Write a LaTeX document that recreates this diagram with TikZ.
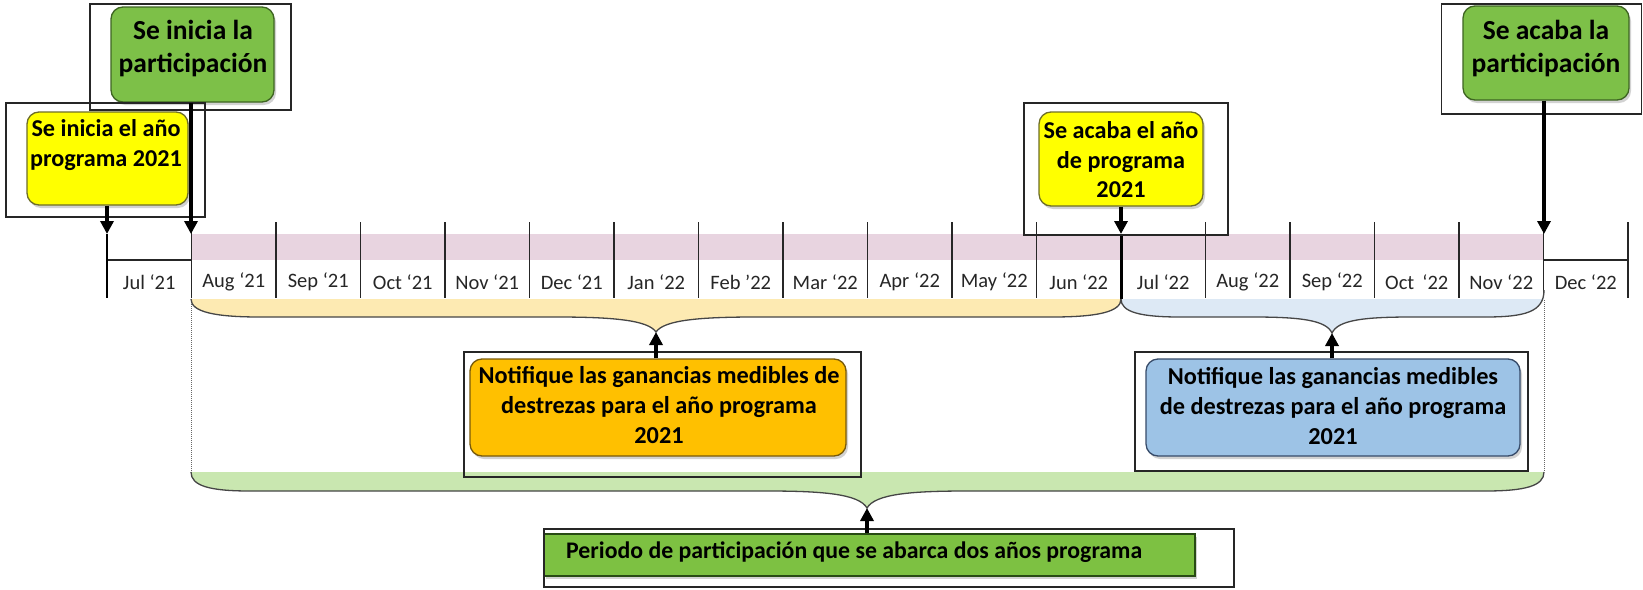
\documentclass[tikz,border=0pt]{standalone}
\usepackage{fontspec}
\setmainfont{Carlito}
\usetikzlibrary{arrows.meta,shadows}
\definecolor{gfill}{RGB}{125,192,72}
\definecolor{gdraw}{RGB}{62,100,34}
\definecolor{yfill}{RGB}{255,255,0}
\definecolor{ydraw}{RGB}{110,110,40}
\definecolor{ofill}{RGB}{255,192,0}
\definecolor{odraw}{RGB}{120,90,10}
\definecolor{bfill}{RGB}{157,195,230}
\definecolor{bdraw}{RGB}{55,75,105}
\definecolor{pfill}{RGB}{125,193,66}
\definecolor{pdraw}{RGB}{40,75,20}
\definecolor{band}{RGB}{232,212,224}
\definecolor{brY}{RGB}{253,234,178}
\definecolor{brB}{RGB}{221,233,245}
\definecolor{brG}{RGB}{201,231,176}
\definecolor{brline}{RGB}{70,70,70}
\tikzset{
  evbox/.style={rounded corners=12pt, line width=1.3pt, inner sep=0pt,
    drop shadow={opacity=0.35, shadow xshift=2pt, shadow yshift=-3pt}},
  gbox/.style={evbox, draw=gdraw, fill=gfill},
  ybox/.style={evbox, draw=ydraw, fill=yfill},
  obox/.style={evbox, draw=odraw, fill=ofill},
  bbox/.style={evbox, draw=bdraw, fill=bfill},
  gtext/.style={inner sep=0pt, align=center, font=\bfseries\fontsize{27.5}{33}\selectfont},
  ytext/.style={inner sep=0pt, align=center, font=\bfseries\fontsize{24.2}{29.5}\selectfont},
  rtext/.style={inner sep=0pt, align=center, font=\bfseries\fontsize{24.3}{30}\selectfont},
  framebox/.style={draw=black!85, line width=1.6pt, inner sep=0pt},
  arr/.style={line width=3.6pt, -{Triangle[length=13pt,width=13pt]}},
  tick/.style={line width=1.3pt, black!85},
  mlabel/.style={font=\fontsize{20.5}{24}\selectfont, text=black!85, inner sep=0pt},
  brace/.style={draw=brline, line width=1.3pt},
}
\begin{document}
\begin{tikzpicture}[x=1pt,y=-1pt]
\useasboundingbox[fill=white] (0,0) rectangle (1643,589);

% timeline band
\fill[band] (191,234) rectangle (1544,260);
\draw[tick] (107,260) -- (191,260);
\draw[tick] (1544,260) -- (1628,260);
\foreach \i in {1,...,11,13,14,15,16,17,18}
  \draw[tick] (107+84.5*\i,222) -- (107+84.5*\i,298);
\draw[line width=2.5pt] (107,234) -- (107,298);
\draw[line width=3pt] (1121,234) -- (1121,300);
\foreach \m [count=\i from 0] in {Jul ‘21,Aug ‘21,Sep ‘21,Oct ‘21,Nov ‘21,Dec ‘21,Jan ‘22,Feb '22,Mar ‘22,Apr ‘22,May ‘22,Jun ‘22,Jul ‘22,Aug ‘22,Sep ‘22,Oct\ \,‘22,Nov ‘22,Dec ‘22}
  \node[mlabel] (m\i) at (107+84.5*\i+42.25,282) {\m};

\coordinate (t0) at (107,234);
\coordinate (t1) at (191,234);
\coordinate (t12) at (1121,234);
\coordinate (t17) at (1544,234);

% dotted guides
\draw[densely dotted, black!60, line width=1pt] (191,300) -- (191,472);
\draw[densely dotted, black!60, line width=1pt] (1544,300) -- (1544,472);

% braces
\fill[brY] (191,299) .. controls (191,312) and (215,317) .. (260,317) -- (556,317)
  .. controls (612,317) and (648,320) .. (656,332) .. controls (664,320) and (700,317) .. (756,317)
  -- (1052,317) .. controls (1097,317) and (1121,312) .. (1121,299) -- cycle;
\draw[brace] (191,299) .. controls (191,312) and (215,317) .. (260,317) -- (556,317)
  .. controls (612,317) and (648,320) .. (656,332) .. controls (664,320) and (700,317) .. (756,317)
  -- (1052,317) .. controls (1097,317) and (1121,312) .. (1121,299);
\coordinate (bt1) at (656,332);

\fill[brB] (1121,299) .. controls (1121,312) and (1140,317) .. (1180,317) -- (1252,317)
  .. controls (1300,317) and (1326,320) .. (1332,333) .. controls (1338,320) and (1364,317) .. (1412,317)
  -- (1485,317) .. controls (1525,317) and (1544,312) .. (1544,290) -- (1544,299) -- cycle;
\draw[brace] (1121,299) .. controls (1121,312) and (1140,317) .. (1180,317) -- (1252,317)
  .. controls (1300,317) and (1326,320) .. (1332,333) .. controls (1338,320) and (1364,317) .. (1412,317)
  -- (1485,317) .. controls (1525,317) and (1544,312) .. (1544,290);
\coordinate (bt2) at (1332,333);

\fill[brG] (191,472) .. controls (191,486) and (210,491) .. (250,491) -- (767,491)
  .. controls (823,491) and (859,494) .. (867,508) .. controls (875,494) and (911,491) .. (967,491)
  -- (1485,491) .. controls (1525,491) and (1544,486) .. (1544,472) -- cycle;
\draw[brace] (191,472) .. controls (191,486) and (210,491) .. (250,491) -- (767,491)
  .. controls (823,491) and (859,494) .. (867,508) .. controls (875,494) and (911,491) .. (967,491)
  -- (1485,491) .. controls (1525,491) and (1544,486) .. (1544,472);
\coordinate (bt3) at (867,508);

% event boxes
\node[gbox, minimum width=163pt, minimum height=95pt] (ps) at (192.5,54.5) {};
\node[gtext] (pst) at (193,49) {Se inicia la\\participación};
\node[gbox, minimum width=166pt, minimum height=94pt] (pe) at (1546,53) {};
\node[gtext] (pet) at (1546,49) {Se acaba la\\participación};
\node[ybox, minimum width=161pt, minimum height=93pt] (ys) at (107.5,158.5) {};
\node[ytext] (yst) at (106,145) {Se inicia el año\\programa 2021};
\node[ybox, minimum width=164pt, minimum height=94pt] (ye) at (1121,159) {};
\node[ytext] (yet) at (1121,160) {Se acaba el año\\de programa\\2021};

% frames
\node[framebox, minimum width=201pt, minimum height=106pt] (fps) at (190.5,57) {};
\node[framebox, minimum width=199pt, minimum height=114pt] (fys) at (105.5,160) {};
\node[framebox, minimum width=204pt, minimum height=132pt] (fye) at (1126,169) {};
\node[framebox, minimum width=200pt, minimum height=110pt] (fpe) at (1541.5,59) {};

% arrows to timeline
\draw[arr] (t0 |- ys.south) -- (t0);
\draw[arr] (t1 |- ps.south) -- (t1);
\draw[arr] (t12 |- ye.south) -- (t12);
\draw[arr] (t17 |- pe.south) -- (t17);

% report boxes
\node[obox, minimum width=376pt, minimum height=97pt] (ob) at (658,407.5) {};
\node[rtext] (obt) at (659,405) {Notifique las ganancias medibles de\\destrezas para el año programa\\2021};
\node[bbox, minimum width=374pt, minimum height=97pt] (bb) at (1333,407.5) {};
\node[rtext] (bbt) at (1333,406) {Notifique las ganancias medibles\\de destrezas para el año programa\\2021};
\node[framebox, minimum width=397pt, minimum height=125pt] (fob) at (662.5,414.5) {};
\node[framebox, minimum width=393pt, minimum height=119pt] (fbb) at (1331.5,411.5) {};
\draw[arr] (bt1 |- ob.north) -- (bt1);
\draw[arr] (bt2 |- bb.north) -- (bt2);

% period box
\node[draw=pdraw, fill=pfill, line width=2.5pt, minimum width=651pt, minimum height=42pt,
  inner sep=0pt, drop shadow={opacity=0.35, shadow xshift=2pt, shadow yshift=-3pt}] (pb) at (869.5,555) {};
\node[inner sep=0pt, anchor=west, font=\bfseries\fontsize{23.8}{27}\selectfont] (pbt) at (566,552)
  {Periodo de participación que se abarca dos años programa};
\node[framebox, minimum width=690pt, minimum height=58pt] (fpb) at (889,558) {};
\draw[arr] (bt3 |- pb.north) -- (bt3);
\end{tikzpicture}
\end{document}
